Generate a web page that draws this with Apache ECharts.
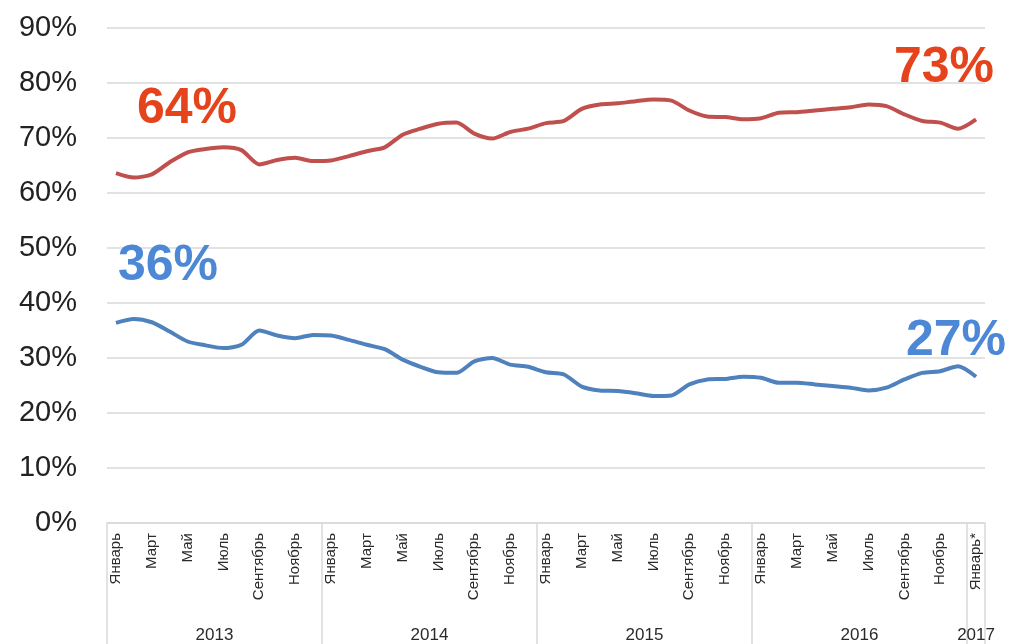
<!DOCTYPE html>
<html>
<head>
<meta charset="utf-8">
<script src="https://cdn.jsdelivr.net/npm/echarts@6/dist/echarts.min.js"></script>
<style>
  html, body { margin: 0; padding: 0; background: #fff; }
  #chart { width: 1010px; height: 644px; }
</style>
</head>
<body>
<div id="chart"></div>
<script>
// month names shown under the axis (every second month)
const monthNames = ["Январь", "Февраль", "Март", "Апрель", "Май", "Июнь",
    "Июль", "Август", "Сентябрь", "Октябрь", "Ноябрь", "Декабрь"];
const years = ["2013", "2014", "2015", "2016", "2017"];
const yTicks = [0, 10, 20, 30, 40, 50, 60, 70, 80, 90];

// monthly share, %, Jan 2013 .. Jan 2017
const redSeries = [
    63.6, 62.8, 63.4, 65.6, 67.4, 68.0, 68.3, 67.8, 65.2, 66.0, 66.4, 65.8,
    65.9, 66.7, 67.6, 68.3, 70.6, 71.7, 72.6, 72.8, 70.8, 69.9, 71.1, 71.7,
    72.7, 73.1, 75.3, 76.1, 76.3, 76.7, 77.0, 76.8, 75.0, 73.9, 73.8, 73.4,
    73.6, 74.6, 74.7, 75.0, 75.3, 75.6, 76.1, 75.8, 74.3, 73.1, 72.8, 71.7,
    73.4
];
const blueSeries = [
    36.4, 37.1, 36.5, 34.8, 33.0, 32.3, 31.8, 32.4, 35.0, 34.1, 33.6, 34.2,
    34.1, 33.3, 32.4, 31.6, 29.7, 28.4, 27.4, 27.3, 29.4, 30.0, 28.8, 28.4,
    27.4, 27.0, 24.8, 24.1, 24.0, 23.6, 23.1, 23.2, 25.2, 26.1, 26.2, 26.6,
    26.4, 25.5, 25.5, 25.2, 24.9, 24.6, 24.1, 24.6, 26.1, 27.3, 27.6, 28.5,
    26.6
];

const monthLabels = redSeries.map((_, i) => {
    const name = monthNames[i % 12];
    return i === redSeries.length - 1 ? name + "*" : name;
});
const yearLabels = redSeries.map((_, i) => years[Math.floor(i / 12)]);

const redLine = "#C0504D";
const blueLine = "#4F81BD";
const redText = "#E5431C";
const blueText = "#4D88D6";
const gridColor = "#D9D9D9";

function endMark(data, idx, color, offset) {
    return {
        coord: [idx, data[idx]],
        value: Math.round(data[idx]) + "%",
        label: {
            show: true,
            position: "inside",
            offset: offset,
            formatter: "{c}",
            color: color,
            fontSize: 50,
            fontWeight: "bold",
            fontFamily: "Liberation Sans, Arial, sans-serif"
        }
    };
}

const last = redSeries.length - 1;
const chart = echarts.init(document.getElementById("chart"), null, { renderer: "canvas" });

chart.setOption({
    backgroundColor: "#fff",
    animation: false,
    grid: { left: 107, right: 25, top: 28, bottom: 121, containLabel: false },
    xAxis: [
        {
            type: "category",
            data: monthLabels,
            boundaryGap: true,
            axisLine: { show: true, lineStyle: { color: gridColor, width: 1.5 } },
            axisTick: {
                show: true,
                interval: (i) => i % 12 === 0,
                length: 121,
                lineStyle: { color: gridColor, width: 1.5 }
            },
            axisLabel: {
                interval: 1,
                rotate: 90,
                margin: 10,
                fontSize: 15,
                color: "#2a2a2a",
                fontFamily: "Liberation Sans, Arial, sans-serif"
            },
            splitLine: { show: false }
        },
        {
            type: "category",
            data: yearLabels,
            position: "bottom",
            boundaryGap: true,
            axisLine: { show: false },
            axisTick: { show: false },
            axisLabel: {
                interval: (i) => i % 12 === 6 || i === last,
                margin: 104,
                formatter: (v, i) => (i === last ? "{b|" + v + "}" : "{a|" + v + "}"),
                rich: {
                    a: { fontSize: 17, color: "#2a2a2a", padding: [0, 18, 0, 0], fontFamily: "Liberation Sans, Arial, sans-serif" },
                    b: { fontSize: 17, color: "#2a2a2a", fontFamily: "Liberation Sans, Arial, sans-serif" }
                }
            },
            splitLine: { show: false }
        }
    ],
    yAxis: {
        type: "value",
        min: yTicks[0],
        max: yTicks[yTicks.length - 1],
        interval: 10,
        axisLine: { show: false },
        axisTick: { show: false },
        axisLabel: {
            formatter: "{value}%",
            margin: 30,
            fontSize: 29,
            color: "#222",
            fontFamily: "Liberation Sans, Arial, sans-serif"
        },
        splitLine: { show: true, lineStyle: { color: gridColor, width: 1.5 } }
    },
    series: [
        {
            name: "red",
            type: "line",
            data: redSeries,
            smooth: 0.25,
            showSymbol: false,
            lineStyle: { color: redLine, width: 4 },
            itemStyle: { color: redLine },
            markPoint: {
                symbol: "circle",
                symbolSize: 0,
                data: [
                    endMark(redSeries, 0, redText, [71, -64]),
                    endMark(redSeries, last, redText, [-32, -51])
                ]
            }
        },
        {
            name: "blue",
            type: "line",
            data: blueSeries,
            smooth: 0.25,
            showSymbol: false,
            lineStyle: { color: blueLine, width: 4 },
            itemStyle: { color: blueLine },
            markPoint: {
                symbol: "circle",
                symbolSize: 0,
                data: [
                    endMark(blueSeries, 0, blueText, [52, -57]),
                    endMark(blueSeries, last, blueText, [-20, -35])
                ]
            }
        }
    ]
});
</script>
</body>
</html>
